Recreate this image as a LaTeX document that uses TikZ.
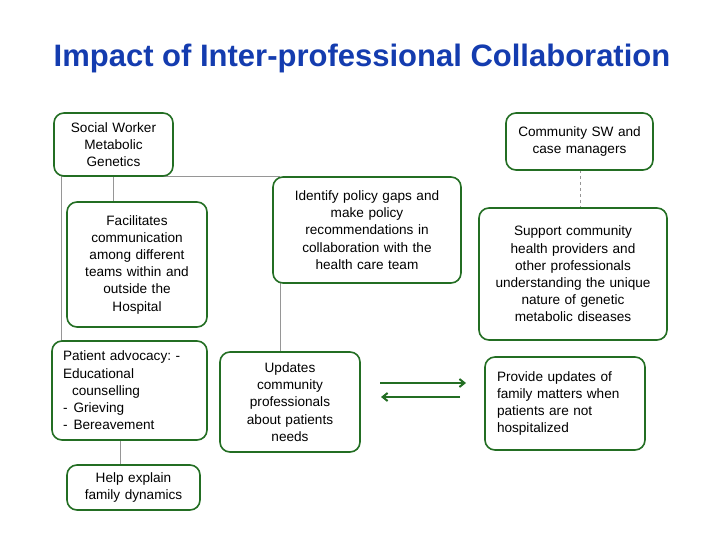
\documentclass[tikz,border=0pt]{standalone}
\usepackage{fontspec}
\setmainfont{Liberation Sans}
\usetikzlibrary{arrows.meta, calc}
\frenchspacing

\definecolor{boxgreen}{RGB}{35,110,35}
\definecolor{titleblue}{RGB}{20,60,175}
\definecolor{linkgray}{RGB}{150,150,150}

\begin{document}
\begin{tikzpicture}[x=1pt, y=-1pt, >={Straight Barb[length=5pt,width=8pt]},
  card/.style={draw=boxgreen, line width=1.6pt, rounded corners=10pt, fill=white,
    inner sep=4pt, align=center, font=\fontsize{13.6}{17.2}\selectfont},
  link/.style={draw=linkgray, line width=1pt},
  swap/.style={->, draw=boxgreen, line width=2pt}]

  \useasboundingbox (0,0) rectangle (720,540);

  % --- TITULO ---
  \node (title) at (362,58) [font=\fontsize{31}{36}\selectfont\bfseries, text=titleblue]
    {Impact of Inter-professional Collaboration};

  % --- LIGACOES (atras das caixas) ---
  \coordinate (lt) at (61,177);
  \coordinate (rt) at (280,177);
  \draw [link] (lt) -- (rt);
  \draw [link] (lt) -- (61,341);
  \draw [link] (rt) -- (280,352);
  \draw [link] (113,176) -- (113,202);
  \draw [link] (120,440) -- (120,465);
  \draw [link, dashed, line width=0.8pt] (580,170) -- (580,208);

  % --- CAIXAS DA ESQUERDA ---
  \node (sw) at (113.5,144.5) [card, minimum width=119pt, minimum height=63pt, text width=110pt]
    {Social Worker\\Metabolic\\Genetics};
  \node (fac) at (137,264.5) [card, minimum width=140pt, minimum height=125pt, text width=128pt]
    {Facilitates\\communication\\among different\\teams within and\\outside the\\Hospital};
  \node (pat) at (129.5,390.5) [card, minimum width=155pt, minimum height=99pt, text width=133pt, align=left]
    {Patient advocacy: -\\Educational\\\hspace*{9pt}counselling\\-\hspace*{6pt}Grieving\\-\hspace*{6pt}Bereavement};
  \node (help) at (133.5,487.5) [card, minimum width=133pt, minimum height=45pt, text width=124pt]
    {Help explain\\family dynamics};

  % --- CAIXAS DO MEIO ---
  \node (idf) at (367,230) [card, minimum width=188pt, minimum height=106pt, text width=176pt]
    {Identify policy gaps and\\make policy\\recommendations in\\collaboration with the\\health care team\\[6pt]};
  \node (upd) at (290,402) [card, minimum width=140pt, minimum height=100pt, text width=128pt]
    {Updates\\community\\professionals\\about patients\\needs};

  % --- CAIXAS DA DIREITA ---
  \node (csw) at (579.5,141.5) [card, minimum width=147pt, minimum height=57pt, text width=138pt]
    {Community SW and\\case managers\\[8pt]};
  \node (sup) at (573,274) [card, minimum width=188pt, minimum height=132pt, text width=180pt]
    {Support community\\health providers and\\other professionals\\understanding the unique\\nature of genetic\\metabolic diseases};
  \node (prov) at (565,403.5) [card, minimum width=160pt, minimum height=93pt, text width=136pt, align=left]
    {Provide updates of\\family matters when\\patients are not\\hospitalized\\[4pt]};

  % --- SETAS DE TROCA ---
  \coordinate (a1) at (380,383);
  \coordinate (a2) at (466,383);
  \coordinate (b1) at (460,397);
  \coordinate (b2) at (381,397);
  \draw [swap] (a1) -- (a2);
  \draw [swap] (b1) -- (b2);

\end{tikzpicture}
\end{document}
